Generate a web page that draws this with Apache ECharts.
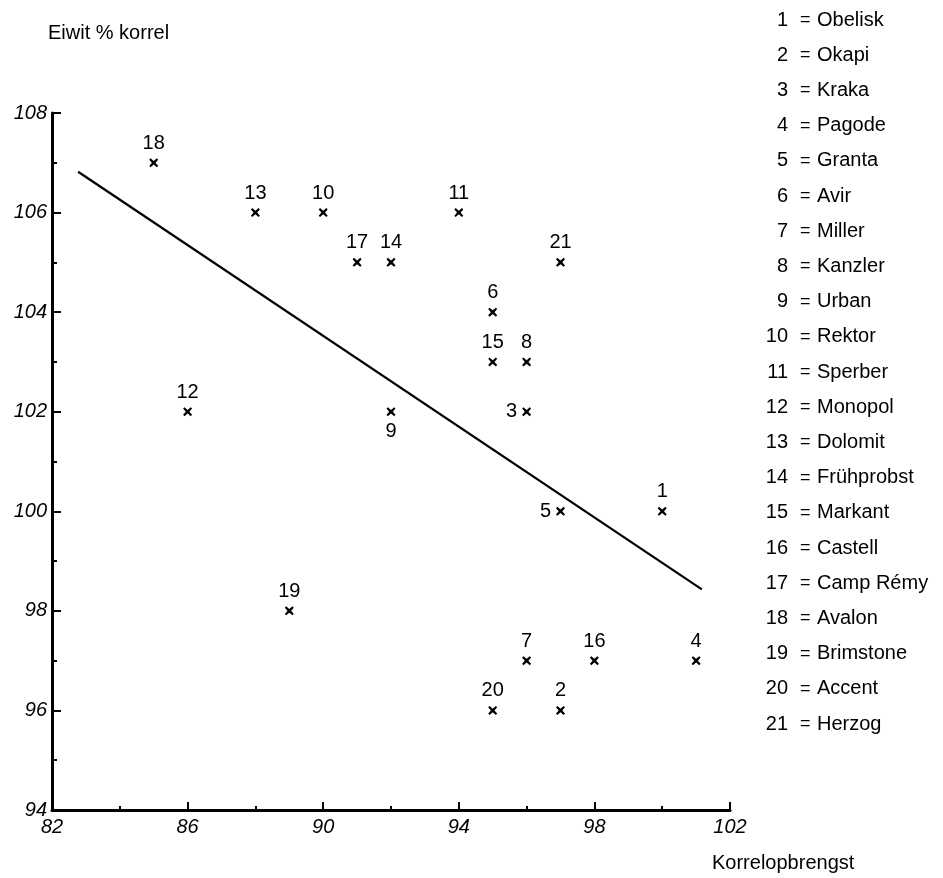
<!DOCTYPE html>
<html>
<head>
<meta charset="utf-8">
<script src="https://cdn.jsdelivr.net/npm/echarts@6/dist/echarts.min.js"></script>
<style>
html,body{margin:0;padding:0;background:#fff;}
#chart{width:943px;height:878px;}
</style>
</head>
<body>
<div id="chart"></div>
<script>
// ---- data ----
const varietyIds = [1,2,3,4,5,6,7,8,9,10,11,12,13,14,15,16,17,18,19,20,21];
const varietyNames = ['Obelisk','Okapi','Kraka','Pagode','Granta','Avir','Miller','Kanzler','Urban','Rektor','Sperber','Monopol','Dolomit','Frühprobst','Markant','Castell','Camp Rémy','Avalon','Brimstone','Accent','Herzog'];
const korrelopbrengst = [100,97,96,101,97,95,96,96,92,90,94,86,88,92,95,98,91,85,89,95,97];
const eiwitKorrel = [100,96,102,97,100,104,97,103,102,106,106,102,106,105,103,97,105,107,98,96,105];
const trendX = [82.77, 101.17];
const trendY = [106.82, 98.43];
const xTickLabels = [82,86,90,94,98,102];
const yTickLabels = [94,96,98,100,102,104,106,108];
const xTitle = 'Korrelopbrengst';
const yTitle = 'Eiwit % korrel';
const labelSide = {3:'left', 5:'left', 9:'bottom'};

// ---- chart ----
const FONT = '"Liberation Sans", Arial, Helvetica, sans-serif';
const chart = echarts.init(document.getElementById('chart'), null, {renderer:'canvas'});

const starPath = 'path://M1.5,0 L5,3 L8.5,0 L10,1.5 L7,5 L10,8.5 L8.5,10 L5,7 L1.5,10 L0,8.5 L3,5 L0,1.5 Z';

const scatterData = varietyIds.map((id, i) => {
  const pos = labelSide[id] || 'top';
  return {
    value: [korrelopbrengst[i], eiwitKorrel[i]],
    name: String(id),
    label: {position: pos, distance: 5}
  };
});

const legendGraphics = [];
varietyIds.forEach((id, i) => {
  const y = 20 + i * 35.2;
  legendGraphics.push({type:'text', x:788, y:y, style:{text:String(id), font:'20px ' + FONT, fill:'#000', align:'right', verticalAlign:'middle'}});
  legendGraphics.push({type:'text', x:800, y:y, style:{text:'=', font:'18px ' + FONT, fill:'#000', align:'left', verticalAlign:'middle'}});
  legendGraphics.push({type:'text', x:817, y:y, style:{text:varietyNames[i], font:'20px ' + FONT, fill:'#000', align:'left', verticalAlign:'middle'}});
});

const option = {
  backgroundColor: '#fff',
  animation: false,
  grid: {left:52, top:113, width:678, height:697, containLabel:false},
  xAxis: {
    type:'value',
    min: xTickLabels[0], max: xTickLabels[xTickLabels.length-1],
    interval: xTickLabels[1] - xTickLabels[0],
    splitLine:{show:false},
    axisLine:{show:true, onZero:false, lineStyle:{color:'#000', width:3}},
    axisTick:{show:true, inside:true, length:8, lineStyle:{color:'#000', width:2}},
    minorTick:{show:true, splitNumber:2, length:4, lineStyle:{color:'#000', width:2}},
    axisLabel:{color:'#000', fontSize:20, fontStyle:'italic', fontFamily:FONT, margin:7}
  },
  yAxis: {
    type:'value',
    min: yTickLabels[0], max: yTickLabels[yTickLabels.length-1],
    interval: yTickLabels[1] - yTickLabels[0],
    splitLine:{show:false},
    axisLine:{show:true, onZero:false, lineStyle:{color:'#000', width:3}},
    axisTick:{show:true, inside:true, length:9, lineStyle:{color:'#000', width:2}},
    minorTick:{show:true, splitNumber:2, length:5, lineStyle:{color:'#000', width:2}},
    axisLabel:{color:'#000', fontSize:20, fontStyle:'italic', fontFamily:FONT, margin:5, padding:[0,0,12,0]}
  },
  graphic: [
    {type:'text', x:48, y:33, style:{text:yTitle, font:'20px ' + FONT, fill:'#000', verticalAlign:'middle'}},
    {type:'text', x:712, y:863, style:{text:xTitle, font:'20px ' + FONT, fill:'#000', verticalAlign:'middle'}}
  ].concat(legendGraphics),
  series: [
    {
      type:'line',
      data: trendX.map((x, i) => [x, trendY[i]]),
      symbol:'none',
      lineStyle:{color:'#000', width:2.2},
      silent:true,
      z:2
    },
    {
      type:'scatter',
      data: scatterData,
      symbol: starPath,
      symbolSize: 9,
      itemStyle:{color:'#000', opacity:1},
      label:{show:true, formatter:'{b}', color:'#000', opacity:1, textBorderWidth:0, fontSize:20, fontFamily:FONT},
      z:3
    }
  ]
};
chart.setOption(option);
</script>
</body>
</html>
